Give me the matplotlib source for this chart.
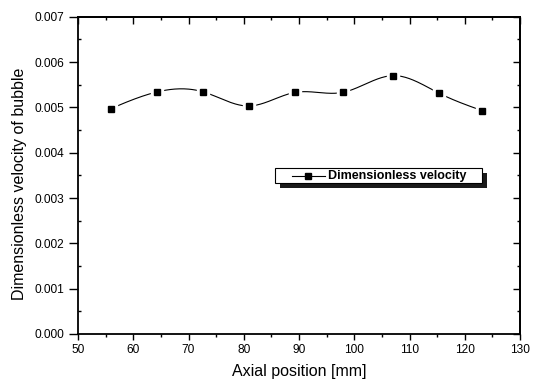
import numpy as np
import matplotlib
matplotlib.use("Agg")
import matplotlib.pyplot as plt
from matplotlib.patches import Rectangle
from matplotlib.lines import Line2D
from matplotlib.ticker import MultipleLocator, FormatStrFormatter

plt.rcParams["font.family"] = ["Liberation Sans", "DejaVu Sans"]

# Measured data: axial position (mm) and dimensionless bubble velocity
axial_position = [55.9, 64.3, 72.7, 80.9, 89.3, 97.9, 107.0, 115.4, 123.1]
dimensionless_velocity = [0.00497, 0.00534, 0.00534, 0.00503, 0.00533,
                          0.00533, 0.00570, 0.00531, 0.00493]
series_label = "Dimensionless velocity"
x_label = "Axial position [mm]"
y_label = "Dimensionless velocity of bubble"


def natural_spline(x, y, xs):
    """Natural cubic spline through (x, y), evaluated at xs."""
    x = np.asarray(x, float)
    y = np.asarray(y, float)
    n = len(x)
    h = np.diff(x)
    A = np.zeros((n, n))
    b = np.zeros(n)
    A[0, 0] = A[-1, -1] = 1.0
    for i in range(1, n - 1):
        A[i, i - 1] = h[i - 1]
        A[i, i] = 2 * (h[i - 1] + h[i])
        A[i, i + 1] = h[i]
        b[i] = 6 * ((y[i + 1] - y[i]) / h[i] - (y[i] - y[i - 1]) / h[i - 1])
    M = np.linalg.solve(A, b)
    idx = np.clip(np.searchsorted(x, xs) - 1, 0, n - 2)
    x0, x1 = x[idx], x[idx + 1]
    hh = x1 - x0
    t0 = x1 - xs
    t1 = xs - x0
    return (M[idx] * t0 ** 3 / (6 * hh) + M[idx + 1] * t1 ** 3 / (6 * hh)
            + (y[idx] / hh - M[idx] * hh / 6) * t0
            + (y[idx + 1] / hh - M[idx + 1] * hh / 6) * t1)


fig = plt.figure(figsize=(5.35, 3.9), dpi=100)
ax = fig.add_axes([78 / 535, 1 - 334 / 390, (520 - 78) / 535, (334 - 16.7) / 390])

xs = np.linspace(axial_position[0], axial_position[-1], 400)
ax.plot(xs, natural_spline(axial_position, dimensionless_velocity, xs),
        color="black", lw=0.8, zorder=2)
# white gap around each symbol, then the symbol itself
ax.plot(axial_position, dimensionless_velocity, ls="none", marker="s",
        ms=9, mfc="white", mec="white", zorder=3)
ax.plot(axial_position, dimensionless_velocity, ls="none", marker="s",
        ms=4.5, mfc="black", mec="black", zorder=4)

ax.set_xlim(50, 130)
ax.set_ylim(0, 0.007)
ax.xaxis.set_major_locator(MultipleLocator(10))
ax.xaxis.set_minor_locator(MultipleLocator(5))
ax.yaxis.set_major_locator(MultipleLocator(0.001))
ax.yaxis.set_minor_locator(MultipleLocator(0.0005))
ax.yaxis.set_major_formatter(FormatStrFormatter("%.3f"))

for s in ax.spines.values():
    s.set_linewidth(1.3)

ax.tick_params(axis="x", which="major", direction="out", length=4, width=1.0,
               pad=3, labelsize=8.6)
ax.tick_params(axis="x", which="minor", direction="out", length=2.5, width=1.0)
ax.tick_params(axis="y", which="major", direction="out", length=6.5, width=1.0,
               pad=3.5, labelsize=8.6)
ax.tick_params(axis="y", which="minor", direction="in", length=2.5, width=1.0)

top = ax.secondary_xaxis("top")
top.xaxis.set_major_locator(MultipleLocator(10))
top.xaxis.set_minor_locator(MultipleLocator(5))
top.tick_params(which="major", direction="in", length=5, width=1.0, labeltop=False)
top.tick_params(which="minor", direction="in", length=2.5, width=1.0)
top.spines["top"].set_linewidth(1.3)

right = ax.secondary_yaxis("right")
right.yaxis.set_major_locator(MultipleLocator(0.001))
right.yaxis.set_minor_locator(MultipleLocator(0.0005))
right.tick_params(which="major", direction="in", length=5, width=1.0, labelright=False)
right.tick_params(which="minor", direction="in", length=2.5, width=1.0)
right.spines["right"].set_linewidth(1.3)

ax.set_xlabel(x_label, fontsize=11.5, va="center")
ax.xaxis.set_label_coords(0.5, -0.119)
ax.set_ylabel(y_label, fontsize=11.5, va="center")
ax.yaxis.set_label_coords(-0.133, 0.473)

# framed key with a solid drop shadow
bx0, bx1, by0, by1 = 0.4463, 0.9141, 0.4749, 0.5232
sx, sy = 4.5 / 442, 5.0 / 317.3
ax.add_patch(Rectangle((bx0 + sx, by0 - sy), bx1 - bx0, by1 - by0,
                       transform=ax.transAxes, facecolor="#1a1a1a",
                       edgecolor="none", zorder=5))
ax.add_patch(Rectangle((bx0, by0), bx1 - bx0, by1 - by0,
                       transform=ax.transAxes, facecolor="white",
                       edgecolor="black", lw=0.8, zorder=6))
ky = 0.499
ax.add_line(Line2D([0.4847, 0.5593], [ky, ky], transform=ax.transAxes,
                   color="black", lw=0.8, zorder=7))
ax.add_line(Line2D([0.5209], [ky], transform=ax.transAxes, ls="none",
                   marker="s", ms=4.5, mfc="black", mec="black", zorder=8))
ax.text(0.5661, ky, series_label, transform=ax.transAxes, fontsize=9,
        fontweight="bold", ha="left", va="center", zorder=8)

fig.savefig("out.png", dpi=100)
